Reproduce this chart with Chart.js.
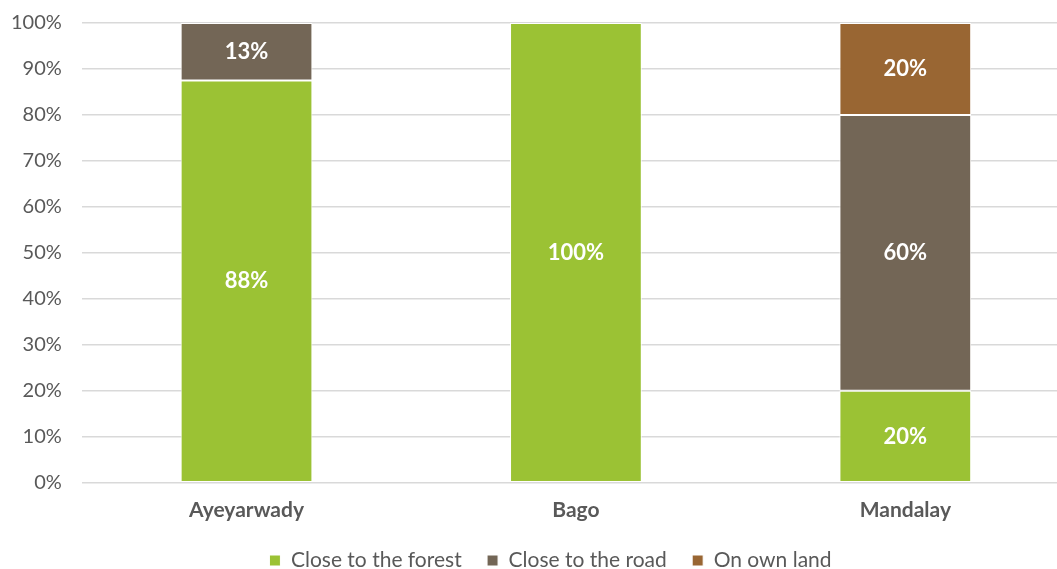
<!DOCTYPE html>
<html>
<head>
<meta charset="utf-8">
<script src="https://cdn.jsdelivr.net/npm/chart.js@4/dist/chart.umd.min.js"></script>
<style>
  html, body { margin: 0; padding: 0; background: #fff; overflow: hidden; }
  #frame { width: 1057px; height: 569px; overflow: hidden; position: relative; }
  #wrap { width: 1070px; height: 578px; position: absolute; left: 0; top: -9px; }
</style>
</head>
<body>
<div id="frame"><div id="wrap"><canvas id="locationChart"></canvas></div></div>
<script>
// regions along the x axis
const regions = ['Ayeyarwady', 'Bago', 'Mandalay'];

// share of answers per region, in percent
const closeToForest = [87.5, 100, 20];
const closeToRoad = [12.5, 0, 60];
const onOwnLand = [0, 0, 20];

const seriesNames = ['Close to the forest', 'Close to the road', 'On own land'];
const seriesColors = ['#9bc234', '#736656', '#996633'];

const FONT = 'Lato, "Open Sans", sans-serif';

// white percentage labels in the middle of each segment
const segmentLabels = {
    id: 'segmentLabels',
    afterDatasetsDraw(chart) {
        const ctx = chart.ctx;
        ctx.save();
        ctx.fillStyle = '#ffffff';
        ctx.font = 'bold 22px ' + FONT;
        ctx.textAlign = 'center';
        ctx.textBaseline = 'middle';
        chart.data.datasets.forEach((ds, i) => {
            const meta = chart.getDatasetMeta(i);
            meta.data.forEach((bar, j) => {
                const v = ds.data[j];
                if (!v) return;
                ctx.fillText(Math.round(v) + '%', bar.x, (bar.y + bar.base) / 2);
            });
        });
        ctx.restore();
    }
};

// nudge the legend a bit to the right
const legendShift = {
    id: 'legendShift',
    afterLayout(chart) {
        chart.legend.left += 20;
        chart.legend.right += 20;
    }
};

const datasets = [closeToForest, closeToRoad, onOwnLand].map((values, i) => ({
    label: seriesNames[i],
    data: values,
    backgroundColor: seriesColors[i],
    borderColor: '#ffffff',
    borderWidth: 1,
    borderSkipped: false,
    barPercentage: 0.4,
    categoryPercentage: 1
}));

new Chart(document.getElementById('locationChart'), {
    type: 'bar',
    data: { labels: regions, datasets: datasets },
    plugins: [segmentLabels, legendShift],
    options: {
        responsive: true,
        maintainAspectRatio: false,
        animation: false,
        layout: { padding: { top: 0, right: 0, left: -9, bottom: -12 } },
        plugins: {
            legend: {
                position: 'bottom',
                labels: {
                    boxWidth: 11,
                    boxHeight: 11,
                    padding: 20,
                    color: '#595959',
                    font: { size: 21, family: FONT },
                    // a little extra room after each entry
                    generateLabels(chart) {
                        const items = Chart.defaults.plugins.legend.labels.generateLabels(chart);
                        items.forEach((item, i) => {
                            if (i < items.length - 1) item.text += ' ';
                        });
                        return items;
                    }
                }
            },
            tooltip: { enabled: false }
        },
        scales: {
            x: {
                stacked: true,
                grid: { display: false },
                border: { display: false },
                ticks: {
                    color: '#595959',
                    padding: 7,
                    font: { size: 21, weight: 'bold', family: FONT }
                }
            },
            y: {
                stacked: true,
                min: 0,
                max: 100,
                border: { display: false },
                grid: { color: '#d9d9d9', lineWidth: 1.5, drawTicks: false },
                ticks: {
                    stepSize: 10,
                    color: '#595959',
                    padding: 20,
                    font: { size: 20, family: FONT },
                    callback: v => v + '%'
                }
            }
        }
    }
});
</script>
</body>
</html>
